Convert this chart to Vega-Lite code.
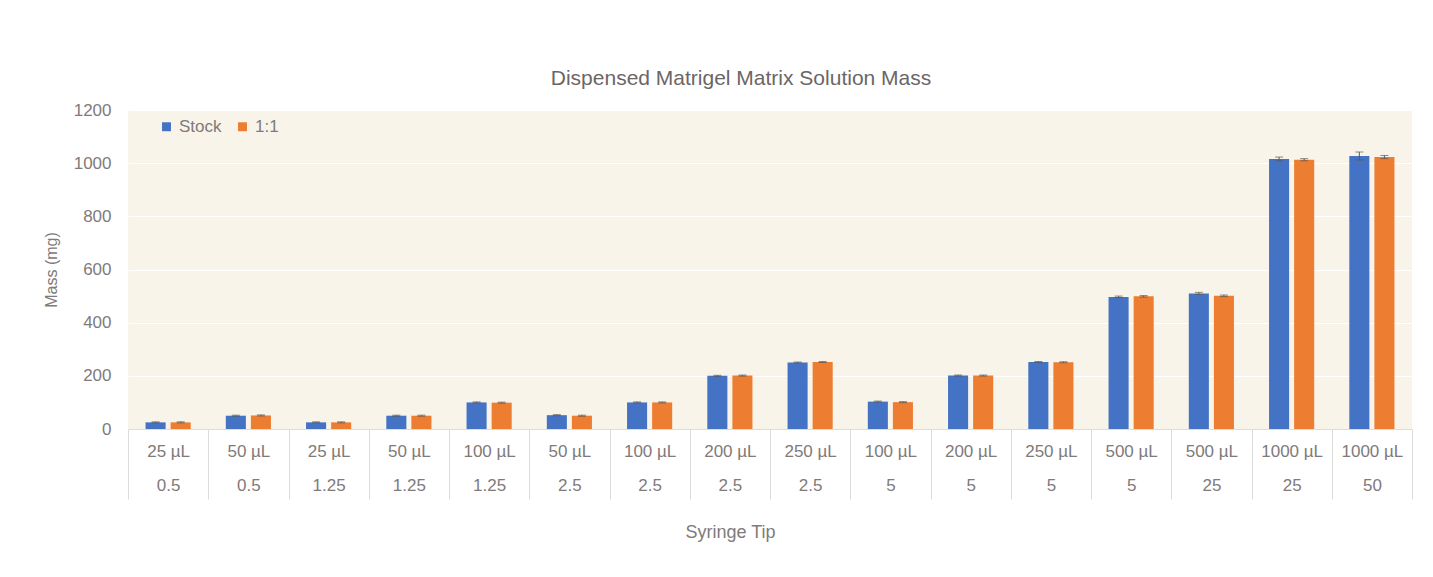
{
  "$schema": "https://vega.github.io/schema/vega-lite/v6.json",
  "width": 1284,
  "height": 319,
  "autosize": {"type": "none"},
  "padding": {"left": 128, "top": 110, "right": 21, "bottom": 148},
  "background": "white",
  "title": {
    "text": "Dispensed Matrigel Matrix Solution Mass",
    "font": "Liberation Sans",
    "fontSize": 21,
    "fontWeight": "normal",
    "color": "#6b6666",
    "anchor": "middle",
    "dx": -29,
    "offset": 12
  },
  "config": {
    "view": {"fill": "#F8F4E9", "stroke": null},
    "font": "Liberation Sans"
  },
  "data": {
    "values": [
      {"tip": "25 µL|0.5", "series": "Stock", "mass": 25, "err": 2},
      {"tip": "25 µL|0.5", "series": "1:1", "mass": 25, "err": 2},
      {"tip": "50 µL|0.5", "series": "Stock", "mass": 50, "err": 2},
      {"tip": "50 µL|0.5", "series": "1:1", "mass": 51, "err": 2},
      {"tip": "25 µL|1.25", "series": "Stock", "mass": 25, "err": 2},
      {"tip": "25 µL|1.25", "series": "1:1", "mass": 25, "err": 2},
      {"tip": "50 µL|1.25", "series": "Stock", "mass": 50, "err": 2},
      {"tip": "50 µL|1.25", "series": "1:1", "mass": 50, "err": 2},
      {"tip": "100 µL|1.25", "series": "Stock", "mass": 100, "err": 2},
      {"tip": "100 µL|1.25", "series": "1:1", "mass": 99, "err": 2},
      {"tip": "50 µL|2.5", "series": "Stock", "mass": 52, "err": 2},
      {"tip": "50 µL|2.5", "series": "1:1", "mass": 50, "err": 2},
      {"tip": "100 µL|2.5", "series": "Stock", "mass": 100, "err": 2},
      {"tip": "100 µL|2.5", "series": "1:1", "mass": 100, "err": 2},
      {"tip": "200 µL|2.5", "series": "Stock", "mass": 200, "err": 2},
      {"tip": "200 µL|2.5", "series": "1:1", "mass": 201, "err": 2},
      {"tip": "250 µL|2.5", "series": "Stock", "mass": 250, "err": 2},
      {"tip": "250 µL|2.5", "series": "1:1", "mass": 252, "err": 2},
      {"tip": "100 µL|5", "series": "Stock", "mass": 103, "err": 2},
      {"tip": "100 µL|5", "series": "1:1", "mass": 101, "err": 2},
      {"tip": "200 µL|5", "series": "Stock", "mass": 201, "err": 2},
      {"tip": "200 µL|5", "series": "1:1", "mass": 201, "err": 2},
      {"tip": "250 µL|5", "series": "Stock", "mass": 252, "err": 2},
      {"tip": "250 µL|5", "series": "1:1", "mass": 251, "err": 2},
      {"tip": "500 µL|5", "series": "Stock", "mass": 497, "err": 3},
      {"tip": "500 µL|5", "series": "1:1", "mass": 499, "err": 3},
      {"tip": "500 µL|25", "series": "Stock", "mass": 510, "err": 4},
      {"tip": "500 µL|25", "series": "1:1", "mass": 501, "err": 3},
      {"tip": "1000 µL|25", "series": "Stock", "mass": 1016, "err": 7},
      {"tip": "1000 µL|25", "series": "1:1", "mass": 1013, "err": 4},
      {"tip": "1000 µL|50", "series": "Stock", "mass": 1027, "err": 15},
      {"tip": "1000 µL|50", "series": "1:1", "mass": 1023, "err": 6}
    ]
  },
  "transform": [
    {"calculate": "datum.mass - datum.err", "as": "lo"},
    {"calculate": "datum.mass + datum.err", "as": "hi"}
  ],
  "encoding": {
    "x": {
      "field": "tip",
      "type": "nominal",
      "sort": null,
      "scale": {"paddingInner": 0, "paddingOuter": 0},
      "axis": {
        "title": "Syringe Tip",
        "titleFont": "Liberation Sans",
        "titleFontSize": 18,
        "titleFontWeight": "normal",
        "titleColor": "#807a7a",
        "titleX": 602,
        "titlePadding": 24,
        "labelExpr": "datum.value ? split(datum.value, '|') : ''",
        "labelAngle": 0,
        "labelFontSize": 17,
        "labelColor": "#807a7a",
        "labelLineHeight": 34,
        "labelPadding": -56,
        "labelBaseline": "top",
        "tickBand": "extent",
        "tickSize": 70,
        "tickColor": "#dcdcdc",
        "tickWidth": 1,
        "domainColor": "#dcdcdc",
        "domainWidth": 1,
        "grid": false
      }
    },
    "xOffset": {
      "field": "series",
      "type": "nominal",
      "sort": ["Stock", "1:1"],
      "scale": {"paddingInner": 0.2, "paddingOuter": 0.7}
    }
  },
  "layer": [
    {
      "mark": {"type": "bar"},
      "encoding": {
        "y": {
          "field": "mass",
          "type": "quantitative",
          "scale": {"domain": [0, 1200]},
          "axis": {
            "title": "Mass (mg)",
            "titleFont": "Liberation Sans",
            "titleFontSize": 16,
            "titleFontWeight": "normal",
            "titleColor": "#807a7a",
            "titlePadding": 14,
            "values": [0, 200, 400, 600, 800, 1000, 1200],
            "format": "d",
            "labelFontSize": 17,
            "labelColor": "#807a7a",
            "labelPadding": 17,
            "ticks": false,
            "domain": false,
            "grid": true,
            "gridColor": "#ffffff",
            "gridWidth": 1
          }
        },
        "color": {
          "field": "series",
          "type": "nominal",
          "sort": ["Stock", "1:1"],
          "scale": {"domain": ["Stock", "1:1"], "range": ["#4472C4", "#ED7D31"]},
          "legend": {
            "title": null,
            "orient": "none",
            "legendX": 30,
            "legendY": 8,
            "direction": "horizontal",
            "symbolType": "square",
            "symbolSize": 80,
            "symbolStrokeWidth": 0,
            "labelFontSize": 17,
            "labelColor": "#807a7a",
            "labelOffset": 4,
            "columnPadding": 12
          }
        }
      }
    },
    {
      "mark": {"type": "rule", "color": "#595959", "strokeWidth": 1},
      "encoding": {
        "y": {"field": "lo", "type": "quantitative"},
        "y2": {"field": "hi"}
      }
    },
    {
      "mark": {"type": "tick", "color": "#595959", "size": 8, "thickness": 1, "orient": "horizontal"},
      "encoding": {"y": {"field": "lo", "type": "quantitative"}}
    },
    {
      "mark": {"type": "tick", "color": "#595959", "size": 8, "thickness": 1, "orient": "horizontal"},
      "encoding": {"y": {"field": "hi", "type": "quantitative"}}
    }
  ]
}
